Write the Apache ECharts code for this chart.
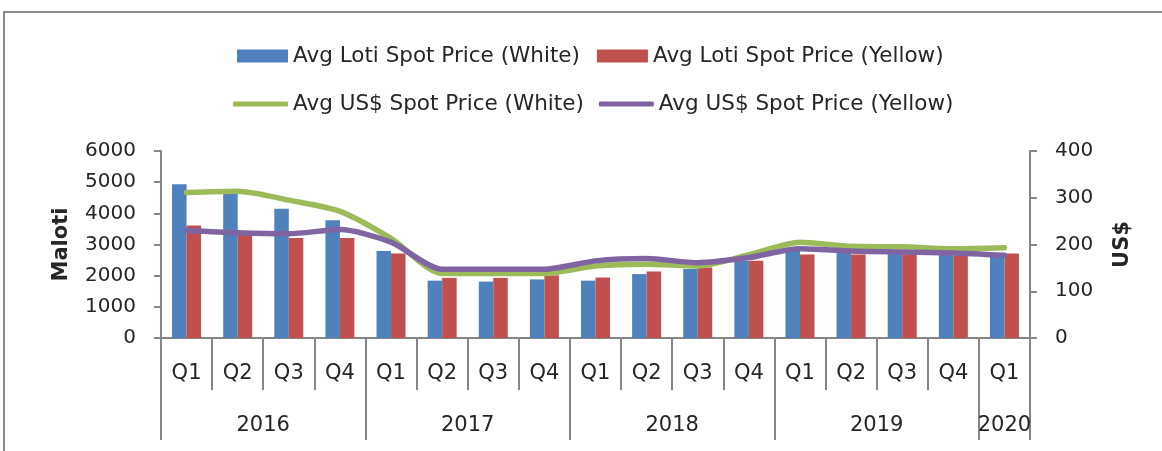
<!DOCTYPE html>
<html>
<head>
<meta charset="utf-8">
<script src="https://cdn.jsdelivr.net/npm/echarts@6/dist/echarts.min.js"></script>
<style>
  html, body { margin: 0; padding: 0; background: #fff; }
  #chart { width: 1162px; height: 451px; }
</style>
</head>
<body>
<div id="chart"></div>
<script>
// quarters on the lower axis, years grouped below
const quarters = ['Q1', 'Q2', 'Q3', 'Q4', 'Q1', 'Q2', 'Q3', 'Q4', 'Q1', 'Q2', 'Q3', 'Q4', 'Q1', 'Q2', 'Q3', 'Q4', 'Q1']
const years = ['2016', '2017', '2018', '2019', '2020']
const yearSpans = [4, 4, 4, 4, 1]

// Maloti (left axis)
const lotiWhite = [4930, 4630, 4150, 3780, 2790, 1840, 1810, 1880, 1840, 2050, 2210, 2480, 2850, 2780, 2780, 2720, 2650]
const lotiYellow = [3610, 3350, 3210, 3210, 2710, 1930, 1930, 2010, 1940, 2130, 2260, 2480, 2680, 2680, 2680, 2630, 2710]
// US$ (right axis)
const usdWhite = [311, 314, 295, 271, 213, 138, 138, 138, 154, 158, 154, 178, 205, 196, 195, 191, 193]
const usdYellow = [230, 225, 223, 232, 205, 147, 147, 147, 165, 170, 161, 172, 191, 186, 184, 182, 177]

const leftTicks = { min: 0, max: 6000, interval: 1000 }
const rightTicks = { min: 0, max: 400, interval: 100 }

// year axis: half-quarter slots so labels can sit between quarter centres
const yearSlots = []
const yearBounds = [0]
for (let i = 0; i <= quarters.length * 2; i++) yearSlots.push('')
let pos = 0
years.forEach((y, i) => {
  yearSlots[pos + yearSpans[i]] = y
  pos += yearSpans[i] * 2
  yearBounds.push(pos)
})

const chart = echarts.init(document.getElementById('chart'))
const font = 'DejaVu Sans'
const txt = '#262626'
const axisGray = '#868686'

const option = {
  backgroundColor: '#fff',
  textStyle: { fontFamily: font },
  graphic: [{
    type: 'rect',
    shape: { x: 4, y: 12, width: 1200, height: 500 },
    style: { fill: 'none', stroke: '#8c8c8c', lineWidth: 2 },
    silent: true
  }],
  legend: [{
    data: [
      { name: 'Avg Loti Spot Price (White)', icon: 'rect' },
      { name: 'Avg Loti Spot Price (Yellow)', icon: 'rect' }
    ],
    left: 232,
    top: 40,
    itemWidth: 51,
    itemHeight: 13,
    itemGap: 17,
    textStyle: { fontSize: 21.5, color: txt, fontFamily: font }
  }, {
    data: [
      { name: 'Avg US$ Spot Price (White)', icon: 'roundRect' },
      { name: 'Avg US$ Spot Price (Yellow)', icon: 'roundRect' }
    ],
    left: 228,
    top: 88,
    itemWidth: 55,
    itemHeight: 5,
    itemGap: 15,
    textStyle: { fontSize: 21.5, color: txt, fontFamily: font }
  }],
  grid: { left: 161, right: 132, top: 151, bottom: 113 },
  xAxis: [{
    type: 'category',
    data: quarters,
    axisLine: { lineStyle: { color: axisGray, width: 2 } },
    axisTick: { show: true, length: 52, interval: 0, lineStyle: { color: axisGray, width: 2 } },
    axisLabel: { interval: 0, margin: 25, fontSize: 21, color: txt }
  }, {
    type: 'category',
    position: 'bottom',
    boundaryGap: false,
    data: yearSlots,
    axisLine: { lineStyle: { color: axisGray, width: 2 } },
    axisTick: {
      show: true,
      length: 102,
      interval: (idx) => yearBounds.includes(idx),
      lineStyle: { color: axisGray, width: 2 }
    },
    axisLabel: { interval: 0, margin: 77, fontSize: 21, color: txt }
  }],
  yAxis: [{
    type: 'value',
    name: 'Maloti',
    nameLocation: 'middle',
    nameRotate: 90,
    nameGap: 89,
    nameTextStyle: { fontSize: 21, fontWeight: 'bold', color: txt },
    min: leftTicks.min,
    max: leftTicks.max,
    interval: leftTicks.interval,
    axisLine: { show: true, lineStyle: { color: axisGray, width: 2 } },
    axisTick: { show: true, length: 7, lineStyle: { color: axisGray, width: 2 } },
    axisLabel: { margin: 25, fontSize: 20, color: txt, formatter: (v) => String(v) },
    splitLine: { show: false }
  }, {
    type: 'value',
    name: 'US$',
    nameLocation: 'middle',
    nameRotate: 90,
    nameGap: 82,
    nameTextStyle: { fontSize: 21, fontWeight: 'bold', color: txt },
    min: rightTicks.min,
    max: rightTicks.max,
    interval: rightTicks.interval,
    axisLine: { show: true, lineStyle: { color: axisGray, width: 2 } },
    axisTick: { show: true, length: 7, lineStyle: { color: axisGray, width: 2 } },
    axisLabel: { margin: 25, fontSize: 20, color: txt },
    splitLine: { show: false }
  }],
  series: [{
    name: 'Avg Loti Spot Price (White)',
    type: 'bar',
    data: lotiWhite,
    barWidth: 14.5,
    barGap: 0,
    itemStyle: { color: '#4f81bd' }
  }, {
    name: 'Avg Loti Spot Price (Yellow)',
    type: 'bar',
    data: lotiYellow,
    barWidth: 14.5,
    barGap: 0,
    itemStyle: { color: '#c0504d' }
  }, {
    name: 'Avg US$ Spot Price (White)',
    type: 'line',
    yAxisIndex: 1,
    data: usdWhite,
    symbol: 'none',
    smooth: 0.25,
    lineStyle: { width: 5.5, color: '#9bbb59', cap: 'round' },
    itemStyle: { color: '#9bbb59' }
  }, {
    name: 'Avg US$ Spot Price (Yellow)',
    type: 'line',
    yAxisIndex: 1,
    data: usdYellow,
    symbol: 'none',
    smooth: 0.25,
    lineStyle: { width: 5.5, color: '#8064a2', cap: 'round' },
    itemStyle: { color: '#8064a2' }
  }]
}

chart.setOption(option)
</script>
</body>
</html>
